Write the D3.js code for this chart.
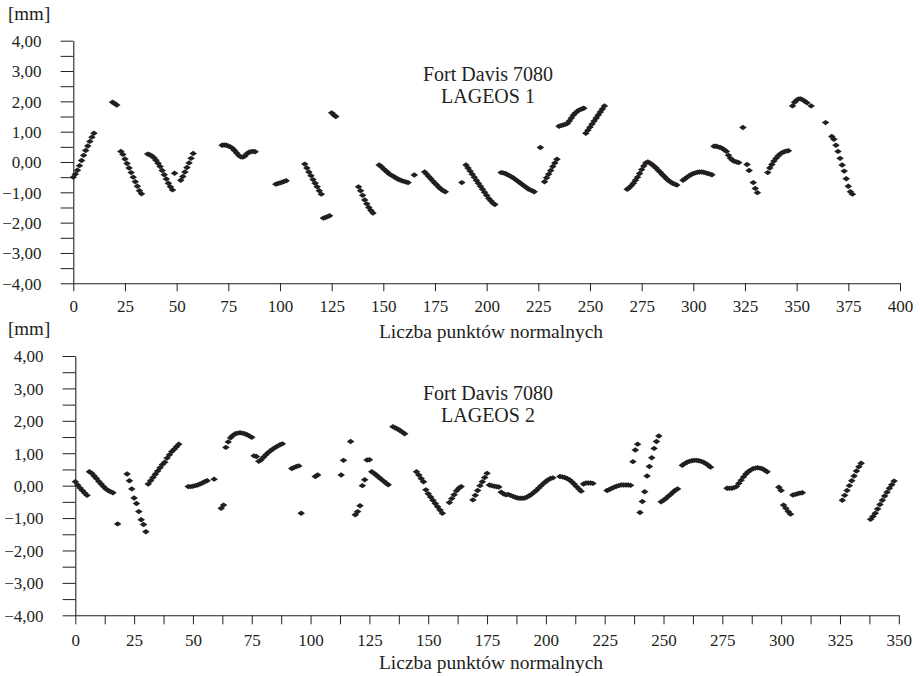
<!DOCTYPE html>
<html><head><meta charset="utf-8">
<script src="https://cdn.jsdelivr.net/npm/d3@7"></script>
<style>
html,body{margin:0;padding:0;background:#fff;}
svg text{font-family:"Liberation Serif","Times New Roman",serif;fill:#231f20;}
</style></head>
<body>
<svg id="chart" width="920" height="676"></svg>
<script>
// LAGEOS 1 segments: [first point number, values in mm]
const lageos1Segments = [
  [0, [-0.5,-0.4,-0.27,-0.12,0.05,0.22,0.38,0.53,0.68,0.82,0.95]],
  [19, [1.97,1.93,1.88]],
  [23, [0.35,0.25,0.1,-0.05,-0.2,-0.35,-0.5,-0.65,-0.8,-0.95,-1.05]],
  [36, [0.26,0.24,0.2,0.14,0.06,-0.04,-0.15,-0.28,-0.42,-0.56,-0.7,-0.82,-0.92]],
  [49, [-0.37]],
  [52, [-0.6,-0.48,-0.33,-0.18,-0.03,0.12,0.28]],
  [72, [0.55,0.56,0.55,0.53,0.5,0.45,0.38,0.3,0.22,0.17,0.16,0.2,0.27,0.32,0.34,0.35,0.34]],
  [98, [-0.73,-0.71,-0.69,-0.67,-0.64,-0.62]],
  [112, [-0.07,-0.2,-0.33,-0.45,-0.58,-0.7,-0.82,-0.95,-1.06]],
  [121, [-1.85,-1.83,-1.8,-1.77]],
  [125, [1.62,1.56,1.5]],
  [138, [-0.82,-0.95,-1.1,-1.25,-1.38,-1.5,-1.6,-1.68]],
  [148, [-0.1,-0.15,-0.22,-0.28,-0.34,-0.4,-0.44,-0.48,-0.52,-0.56,-0.59,-0.62,-0.64,-0.66,-0.68]],
  [165, [-0.43]],
  [170, [-0.33,-0.4,-0.48,-0.55,-0.63,-0.7,-0.77,-0.84,-0.9,-0.95,-0.98]],
  [188, [-0.68]],
  [190, [-0.1,-0.2,-0.3,-0.4,-0.5,-0.6,-0.7,-0.8,-0.9,-1.0,-1.1,-1.2,-1.28,-1.35,-1.4]],
  [207, [-0.35,-0.36,-0.38,-0.41,-0.45,-0.49,-0.53,-0.58,-0.63,-0.68,-0.73,-0.78,-0.83,-0.88,-0.92,-0.95,-0.98]],
  [226, [0.48]],
  [228, [-0.65,-0.52,-0.4,-0.28,-0.15,-0.03,0.09]],
  [235, [1.18,1.2,1.22,1.24,1.27,1.35,1.45,1.55,1.62,1.68,1.72,1.75,1.77]],
  [248, [0.95,1.05,1.15,1.25,1.35,1.45,1.55,1.65,1.75,1.85]],
  [268, [-0.9,-0.85,-0.78,-0.7,-0.6,-0.5,-0.38,-0.25,-0.13,-0.03]],
  [278, [0.0,-0.03,-0.08,-0.14,-0.2,-0.27,-0.34,-0.41,-0.48,-0.55,-0.61,-0.66,-0.7,-0.73,-0.76]],
  [295, [-0.6,-0.55,-0.5,-0.45,-0.41,-0.38,-0.36,-0.34,-0.33,-0.33,-0.34,-0.36,-0.38,-0.4,-0.42]],
  [310, [0.52,0.52,0.5,0.48,0.45,0.4,0.35]],
  [317, [0.22,0.12,0.06,0.02,0.0,-0.02]],
  [324, [1.14]],
  [326, [-0.08,-0.28]],
  [329, [-0.68,-0.87,-1.01]],
  [336, [-0.35,-0.2,-0.08,0.03,0.12,0.2,0.26,0.31,0.34,0.36,0.37]],
  [348, [1.85,1.97,2.04,2.08,2.08,2.05,2.0,1.95]],
  [357, [1.85]],
  [364, [1.3]],
  [367, [0.84,0.75,0.55,0.35,0.12,-0.1,-0.3,-0.55,-0.8,-0.98,-1.06]]
];

// LAGEOS 2 segments
const lageos2Segments = [
  [0, [0.12,0.02,-0.07,-0.15,-0.23,-0.3]],
  [6, [0.43,0.38,0.3,0.22,0.13,0.05,-0.03,-0.1,-0.15,-0.19,-0.22]],
  [18, [-1.18]],
  [22, [0.36,0.15,-0.1,-0.38,-0.55,-0.8,-1.05,-1.2,-1.42]],
  [31, [0.05,0.15,0.25,0.35,0.45,0.55,0.65,0.72,0.85,0.95,1.05,1.12,1.2,1.28]],
  [48, [-0.03,-0.03,-0.02,0.0,0.02,0.05,0.08,0.12,0.15]],
  [59, [0.2]],
  [62, [-0.7,-0.6]],
  [64, [1.18,1.35,1.48,1.55,1.6,1.62,1.63,1.62,1.6,1.57,1.53,1.49]],
  [76, [0.92,0.9]],
  [78, [0.75,0.8,0.88,0.95,1.02,1.08,1.13,1.18,1.22,1.26,1.29]],
  [92, [0.53,0.56,0.59,0.61]],
  [96, [-0.85]],
  [102, [0.28,0.33]],
  [113, [0.33,0.78]],
  [117, [1.36]],
  [119, [-0.9,-0.8,-0.62]],
  [122, [0.0,0.18]],
  [124, [0.79,0.8]],
  [126, [0.43,0.38,0.32,0.26,0.2,0.14,0.08,0.03]],
  [135, [1.82,1.78,1.75,1.7,1.65,1.6]],
  [145, [0.43,0.33,0.22,0.12]],
  [149, [-0.13,-0.25,-0.35,-0.45,-0.55,-0.65,-0.75,-0.85]],
  [159, [-0.52,-0.4,-0.28,-0.16,-0.08,-0.03]],
  [169, [-0.44,-0.3,-0.15,0.0,0.12,0.25,0.38]],
  [176, [0.02,0.0,-0.02,-0.03,-0.04]],
  [181, [-0.2,-0.25,-0.28,-0.27,-0.3,-0.33,-0.36,-0.38,-0.39,-0.39,-0.38,-0.35,-0.31,-0.26,-0.2,-0.14,-0.07,0.0,0.07,0.13,0.18,0.22,0.24]],
  [206, [0.28,0.27,0.25,0.22,0.18,0.12,0.05,-0.03,-0.1,-0.17]],
  [216, [0.05,0.08,0.08,0.08,0.07]],
  [226, [-0.15,-0.12,-0.08,-0.05,-0.02,0.0,0.02,0.02,0.02,0.02,0.01]],
  [237, [0.74,1.1,1.28]],
  [240, [-0.83,-0.49,-0.19,0.3,0.59,0.86,1.15,1.36,1.53]],
  [249, [-0.5,-0.45,-0.4,-0.33,-0.27,-0.2,-0.14,-0.1]],
  [258, [0.63,0.68,0.72,0.75,0.77,0.78,0.78,0.77,0.75,0.72,0.68,0.63,0.57]],
  [277, [-0.08,-0.08,-0.08,-0.06,-0.03]],
  [282, [0.07,0.17,0.27,0.36,0.43,0.48,0.52,0.54,0.55,0.54,0.52,0.48,0.43]],
  [299, [-0.05,-0.15]],
  [301, [-0.6,-0.7,-0.8,-0.88]],
  [305, [-0.29,-0.27,-0.25,-0.23,-0.22]],
  [326, [-0.45,-0.3,-0.15,0.0,0.15,0.3,0.45,0.58,0.69]],
  [338, [-1.04,-0.95,-0.85,-0.72,-0.58,-0.45,-0.32,-0.2,-0.08,0.03,0.14]]
];

const yTicks = [-4,-3.5,-3,-2.5,-2,-1.5,-1,-0.5,0,0.5,1,1.5,2,2.5,3,3.5,4];
const xTicks1 = [0,25,50,75,100,125,150,175,200,225,250,275,300,325,350,375,400];
const xTicks2 = [0,12.5,25,37.5,50,62.5,75,87.5,100,112.5,125,137.5,150,162.5,175,187.5,200,212.5,225,237.5,250,262.5,275,287.5,300,312.5,325,337.5,350];
const titles1 = ["Fort Davis 7080", "LAGEOS 1"];
const titles2 = ["Fort Davis 7080", "LAGEOS 2"];
const xTitle = "Liczba punktów normalnych";
const yUnit = "[mm]";

const ink = "#231f20";
const svg = d3.select("#chart");

function flatten(segs){
  const out = [];
  segs.forEach(([s, vals]) => vals.forEach((v, i) => out.push([s + i, v])));
  return out;
}

const diamond = "M0,-2.7L3.8,0L0,2.7L-3.8,0Z";

function panel(cfg){
  const g = svg.append("g");
  const x = d3.scaleLinear().domain(cfg.xDomain).range([cfg.left, cfg.right]);
  const y = d3.scaleLinear().domain([-4,4]).range([cfg.bottom, cfg.top]);
  const fmt = v => d3.format(".2f")(v).replace(".", ",");

  const yAxis = d3.axisLeft(y).tickValues(yTicks).tickSize(12.7).tickSizeOuter(0)
    .tickPadding(19).tickFormat(v => Number.isInteger(v) ? fmt(v) : "");
  const ya = g.append("g").attr("transform", `translate(${cfg.left},0)`).call(yAxis);
  ya.selectAll("text").style("font-size", "17px").attr("dy", "0.34em");

  const xAxis = d3.axisBottom(x).tickValues(cfg.xTicks).tickSize(cfg.tickLen).tickSizeOuter(0)
    .tickPadding(cfg.xPad).tickFormat(v => v % 25 === 0 ? String(v) : "");
  const xa = g.append("g").attr("transform", `translate(0,${cfg.bottom})`).call(xAxis);
  xa.selectAll("text").style("font-size", "17px");

  [ya, xa].forEach(a => {
    a.select(".domain").attr("stroke", ink).attr("stroke-width", 1.1);
    a.selectAll(".tick line").attr("stroke", ink).attr("stroke-width", 1);
    a.selectAll("text").style("fill", ink);
  });

  g.append("text").attr("x", 8).attr("y", cfg.top - 21).style("font-size", "19px").text(yUnit);

  g.append("text").attr("x", 491).attr("y", cfg.bottom + cfg.xTitleOff)
    .attr("text-anchor", "middle").style("font-size", "19.5px").text(xTitle);

  cfg.titles.forEach((t, i) => {
    g.append("text").attr("x", 488).attr("y", cfg.titleY + i * 21.7)
      .attr("text-anchor", "middle").style("font-size", "20px").text(t);
  });

  g.append("g").selectAll("path").data(flatten(cfg.segs)).join("path")
    .attr("d", diamond)
    .attr("transform", d => `translate(${x(d[0])},${y(d[1])})`)
    .attr("fill", ink);
}

panel({segs: lageos1Segments, xDomain:[0,400], xTicks: xTicks1, left:73.3, right:900, top:40.7, bottom:283.3,
  tickLen:8, xPad:8.5, xTitleOff:55, titles: titles1, titleY: 81});
panel({segs: lageos2Segments, xDomain:[0,350], xTicks: xTicks2, left:75.3, right:898.8, top:356, bottom:615.3,
  tickLen:9, xPad:10, xTitleOff:54, titles: titles2, titleY: 400});
</script>
</body></html>
